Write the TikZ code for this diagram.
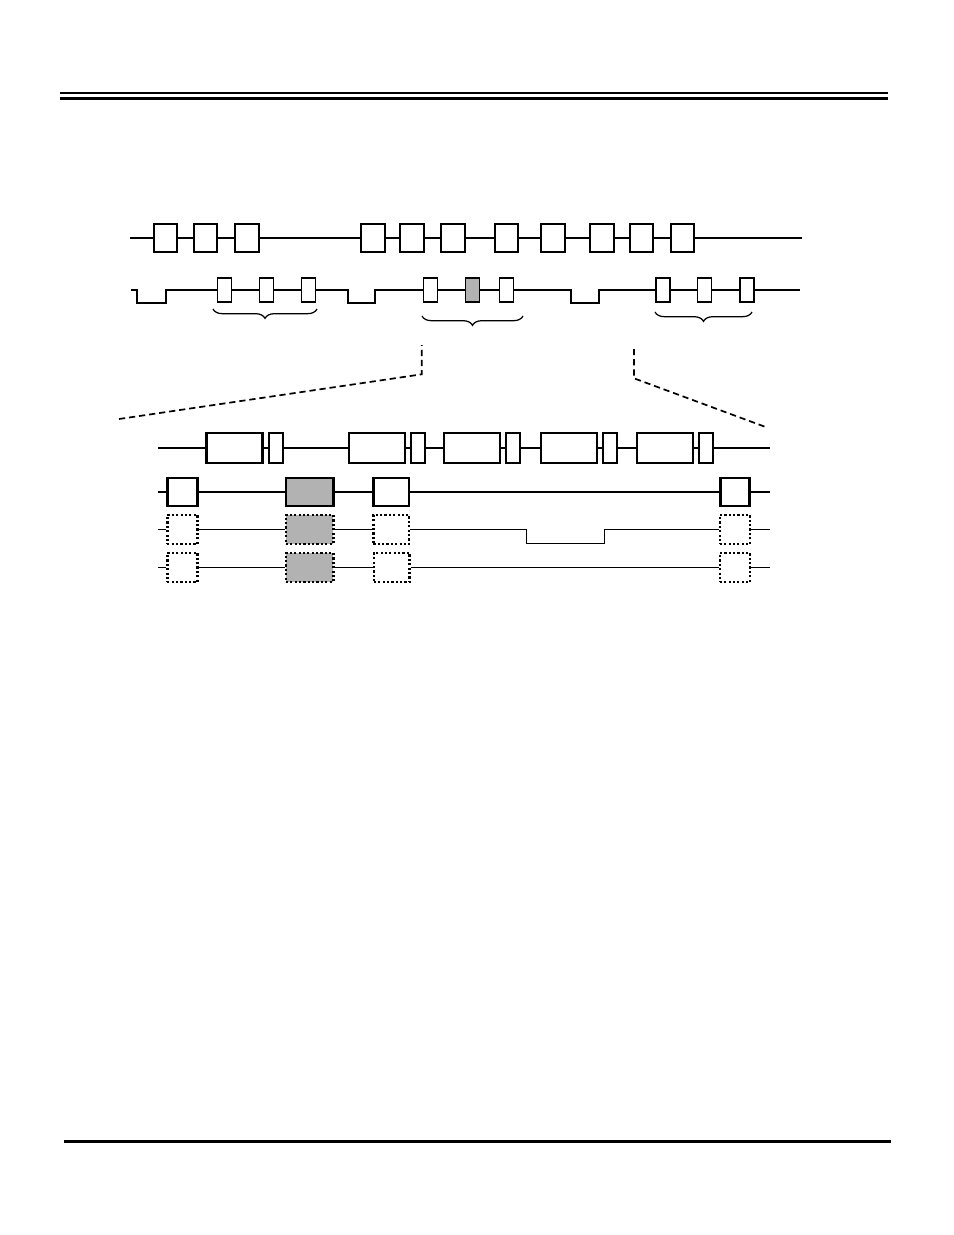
\documentclass[tikz,border=0pt]{standalone}
\usetikzlibrary{decorations.pathreplacing}
\definecolor{slotgrey}{RGB}{178,178,178}

\begin{document}
\begin{tikzpicture}[x=0.6415pt, y=-0.6415pt]
  \tikzset{
    frame/.style={draw, line width=1.3pt, inner sep=0pt, minimum width=15pt, minimum height=17.5pt},
    packet/.style={draw, line width=1.2pt, inner sep=0pt, minimum width=9pt, minimum height=15pt},
    burst/.style={draw, line width=1.4pt, inner sep=0pt, minimum width=36pt, minimum height=19pt},
    tail/.style={draw, line width=1.4pt, inner sep=0pt, minimum width=9pt, minimum height=19pt},
    slot/.style={draw, line width=1.7pt, inner sep=0pt, minimum height=18pt},
    ghost/.style={draw, line width=1.6pt, dash pattern=on 1.4pt off 1.4pt, inner sep=0pt, minimum height=18.5pt},
    wire/.style={line width=0.9pt},
    zoomline/.style={line width=1.1pt, dash pattern=on 4pt off 2.5pt},
    group/.style={decorate, decoration={brace, mirror, amplitude=6pt}, line width=0.8pt},
  }
  \useasboundingbox (0,0) rectangle (954,1235);

  % page rules
  \draw[line width=0.7pt] (60,93) -- (888,93);
  \draw[line width=2.4pt] (60,98.5) -- (888,98.5);
  \draw[line width=1.6pt] (64,1141.5) -- (891,1141.5);

  % top row of frames
  \coordinate (fr0) at (130,238);
  \node[frame] (fr1) at (165.5,238) {};
  \node[frame] (fr2) at (205.5,238) {};
  \node[frame] (fr3) at (247,238) {};
  \node[frame] (fr4) at (373,238) {};
  \node[frame] (fr5) at (412,238) {};
  \node[frame] (fr6) at (453,238) {};
  \node[frame] (fr7) at (506.5,238) {};
  \node[frame] (fr8) at (553,238) {};
  \node[frame] (fr9) at (602,238) {};
  \node[frame] (fr10) at (641.5,238) {};
  \node[frame] (fr11) at (682.5,238) {};
  \coordinate (frend) at (802,238);
  \draw[wire] (fr0) -- (fr1) -- (fr2) -- (fr3) -- (fr4) -- (fr5) -- (fr6)
    -- (fr7) -- (fr8) -- (fr9) -- (fr10) -- (fr11) -- (frend);

  % second row of packets
  \coordinate (pk0) at (131,290);
  \coordinate (dip1l) at (137,290);
  \coordinate (dip1r) at (166,290);
  \node[packet] (pk1) at (224.5,290) {};
  \node[packet] (pk2) at (266.5,290) {};
  \node[packet] (pk3) at (308.5,290) {};
  \coordinate (dip2l) at (348,290);
  \coordinate (dip2r) at (375,290);
  \node[packet] (pk4) at (430.5,290) {};
  \node[packet, fill=slotgrey] (pk5) at (472.5,290) {};
  \node[packet] (pk6) at (506.5,290) {};
  \coordinate (dip3l) at (571,290);
  \coordinate (dip3r) at (599,290);
  \node[packet] (pk7) at (663,290) {};
  \node[packet] (pk8) at (704.5,290) {};
  \node[packet] (pk9) at (747,290) {};
  \coordinate (pkend) at (800,290);
  \draw[wire] (pk0) -- (dip1l) -- ++(0,13) -| (dip1r) -- (pk1) -- (pk2) -- (pk3)
    -- (dip2l) -- ++(0,13) -| (dip2r) -- (pk4) -- (pk5) -- (pk6)
    -- (dip3l) -- ++(0,13) -| (dip3r) -- (pk7) -- (pk8) -- (pk9) -- (pkend);

  % braces
  \draw[group] (213,309) -- (317,309);
  \draw[group] (422,316) -- (523,316);
  \draw[group] (655,312) -- (752,312);

  % zoom lines
  \coordinate (zl) at (119,419);
  \coordinate (zlc) at (421.7,374.3);
  \coordinate (zlt) at (421.7,345);
  \coordinate (zrt) at (634,349);
  \coordinate (zrc) at (634,378.3);
  \coordinate (zr) at (767,427.5);
  \draw[zoomline] (zl) -- (zlc) -- (zlt);
  \draw[zoomline] (zrt) -- (zrc) -- (zr);

  % zoomed bursts
  \coordinate (bd0) at (158,448);
  \node[burst] (bd1) at (234.5,448) {};
  \node[tail] (bt1) at (275.8,448) {};
  \node[burst] (bd2) at (377.3,448) {};
  \node[tail] (bt2) at (418.2,448) {};
  \node[burst] (bd3) at (471.7,448) {};
  \node[tail] (bt3) at (512.8,448) {};
  \node[burst] (bd4) at (569.2,448) {};
  \node[tail] (bt4) at (610.3,448) {};
  \node[burst] (bd5) at (664.7,448) {};
  \node[tail] (bt5) at (705.8,448) {};
  \coordinate (bdend) at (770,448);
  \draw[wire] (bd0) -- (bd1) -- (bt1) -- (bd2) -- (bt2) -- (bd3) -- (bt3)
    -- (bd4) -- (bt4) -- (bd5) -- (bt5) -- (bdend);

  % slots
  \coordinate (sl0) at (158,492);
  \node[slot, minimum width=19pt] (sl1) at (182.5,492) {};
  \node[slot, minimum width=30.5pt, fill=slotgrey] (sl2) at (309.7,492) {};
  \node[slot, minimum width=22.5pt] (sl3) at (391.3,492) {};
  \node[slot, minimum width=19pt] (sl4) at (735,492) {};
  \coordinate (slend) at (770,492);
  \draw[wire] (sl0) -- (sl1) -- (sl2) -- (sl3) -- (sl4) -- (slend);

  % first row of dotted slots
  \coordinate (ga0) at (158,529.5);
  \node[ghost, minimum width=19.5pt] (ga1) at (182.5,529.5) {};
  \node[ghost, minimum width=30.5pt, fill=slotgrey] (ga2) at (309.7,529.5) {};
  \node[ghost, minimum width=23pt] (ga3) at (391.3,529.5) {};
  \node[ghost, minimum width=19.5pt] (ga4) at (735,529.5) {};
  \coordinate (stepl) at (526.7,529.5);
  \coordinate (stepr) at (604.3,529.5);
  \coordinate (gaend) at (770,529.5);
  \draw[wire] (ga0) -- (ga1) -- (ga2) -- (ga3) -- (stepl) -- ++(0,14) -| (stepr)
    -- (ga4) -- (gaend);

  % second row of dotted slots
  \coordinate (gb0) at (158,567.5);
  \node[ghost, minimum width=19.5pt] (gb1) at (182.5,567.5) {};
  \node[ghost, minimum width=30.5pt, fill=slotgrey] (gb2) at (309.7,567.5) {};
  \node[ghost, minimum width=23pt] (gb3) at (391.8,567.5) {};
  \node[ghost, minimum width=19.5pt] (gb4) at (735,567.5) {};
  \coordinate (gbend) at (770,567.5);
  \draw[wire] (gb0) -- (gb1) -- (gb2) -- (gb3) -- (gb4) -- (gbend);
\end{tikzpicture}
\end{document}
